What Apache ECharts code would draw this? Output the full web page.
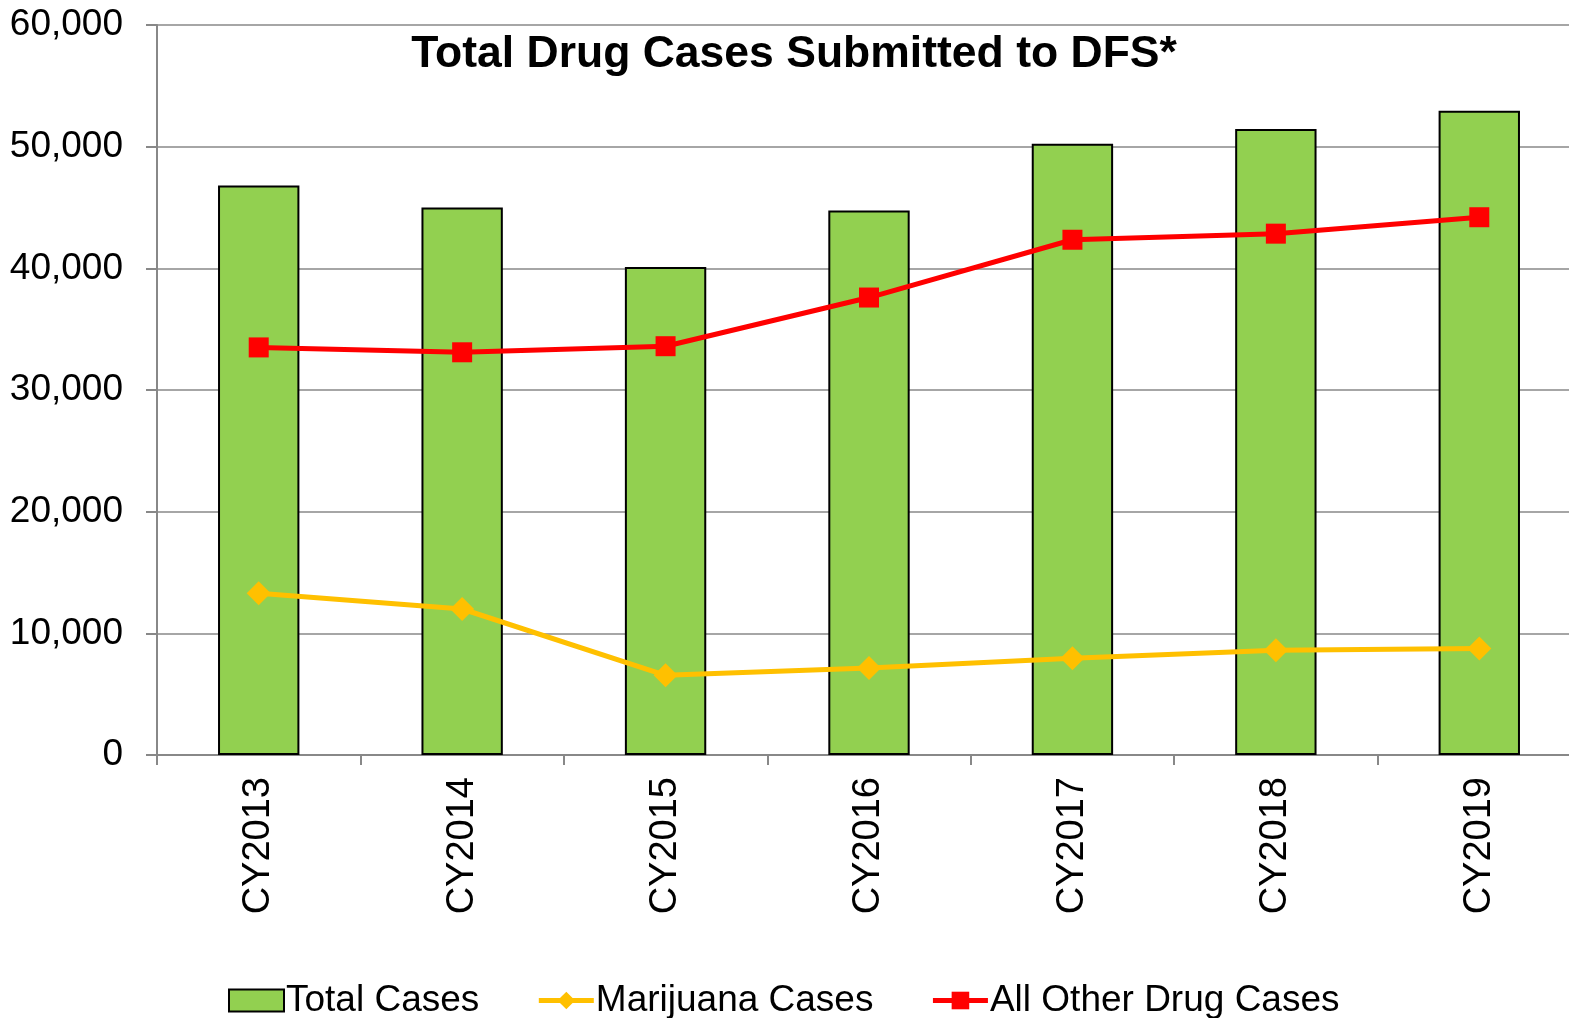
<!DOCTYPE html>
<html>
<head>
<meta charset="utf-8">
<script src="https://cdn.jsdelivr.net/npm/echarts@6/dist/echarts.min.js"></script>
<style>
html,body{margin:0;padding:0;background:#fff;}
#chart{width:1569px;height:1018px;}
</style>
</head>
<body>
<div id="chart"></div>
<script>
const categories = ['CY2013','CY2014','CY2015','CY2016','CY2017','CY2018','CY2019'];
const totalCases = [46800, 45000, 40100, 44750, 50250, 51450, 52950];
const marijuanaCases = [13300, 12000, 6550, 7150, 7950, 8600, 8750];
const otherDrugCases = [33500, 33100, 33600, 37600, 42350, 42850, 44200];
const yTicks = [0, 10000, 20000, 30000, 40000, 50000, 60000];

const FONT = '"Liberation Sans", Arial, sans-serif';
const chart = echarts.init(document.getElementById('chart'), null, {renderer:'canvas'});
chart.setOption({
  animation: false,
  backgroundColor: '#ffffff',
  title: {
    text: 'Total Drug Cases Submitted to DFS*',
    left: 789, top: 27, textAlign: 'center',
    textStyle: {fontFamily: FONT, fontWeight: 'bold', fontSize: 44.5, color: '#000'}
  },
  legend: {
    left: 223, top: 977,
    itemWidth: 55, itemHeight: 22, itemGap: 57,
    textStyle: {fontFamily: FONT, fontSize: 37, color: '#000', padding: [0,0,0,-3]},
    data: [
      {name: 'Total Cases', icon: 'rect', itemStyle: {color: '#92D050', borderColor: '#000', borderWidth: 2}},
      {name: 'Marijuana Cases', lineStyle: {width: 5, color: '#FFC000'}},
      {name: 'All Other Drug Cases', lineStyle: {width: 5, color: '#FF0000'}}
    ]
  },
  grid: {left: 157, top: 25, height: 730, width: 1424, outerBoundsMode: 'none', containLabel: false},
  xAxis: {
    type: 'category',
    data: categories,
    axisLine: {lineStyle: {color: '#888', width: 2}},
    axisTick: {show: true, length: 10, lineStyle: {color: '#888', width: 2}},
    axisLabel: {rotate: 90, margin: 22, fontFamily: FONT, fontSize: 38, color: '#000'}
  },
  yAxis: {
    type: 'value', min: 0, max: 60000, interval: 10000,
    axisLine: {show: true, lineStyle: {color: '#888', width: 2}},
    axisTick: {show: true, length: 11, lineStyle: {color: '#888', width: 2}},
    splitLine: {lineStyle: {color: '#a6a6a6', width: 2}},
    axisLabel: {
      margin: 34, fontFamily: FONT, fontSize: 37, color: '#000',
      formatter: v => yTicks.includes(v) ? v.toLocaleString('en-US') : ''
    }
  },
  series: [
    {
      name: 'Total Cases', type: 'bar', data: totalCases, barWidth: '40%',
      itemStyle: {color: '#92D050', borderColor: '#000', borderWidth: 2}
    },
    {
      name: 'Marijuana Cases', type: 'line', data: marijuanaCases,
      symbol: 'diamond', symbolSize: 24,
      lineStyle: {color: '#FFC000', width: 5},
      itemStyle: {color: '#FFC000'}
    },
    {
      name: 'All Other Drug Cases', type: 'line', data: otherDrugCases,
      symbol: 'rect', symbolSize: 20,
      lineStyle: {color: '#FF0000', width: 5},
      itemStyle: {color: '#FF0000'}
    }
  ]
});
</script>
</body>
</html>
